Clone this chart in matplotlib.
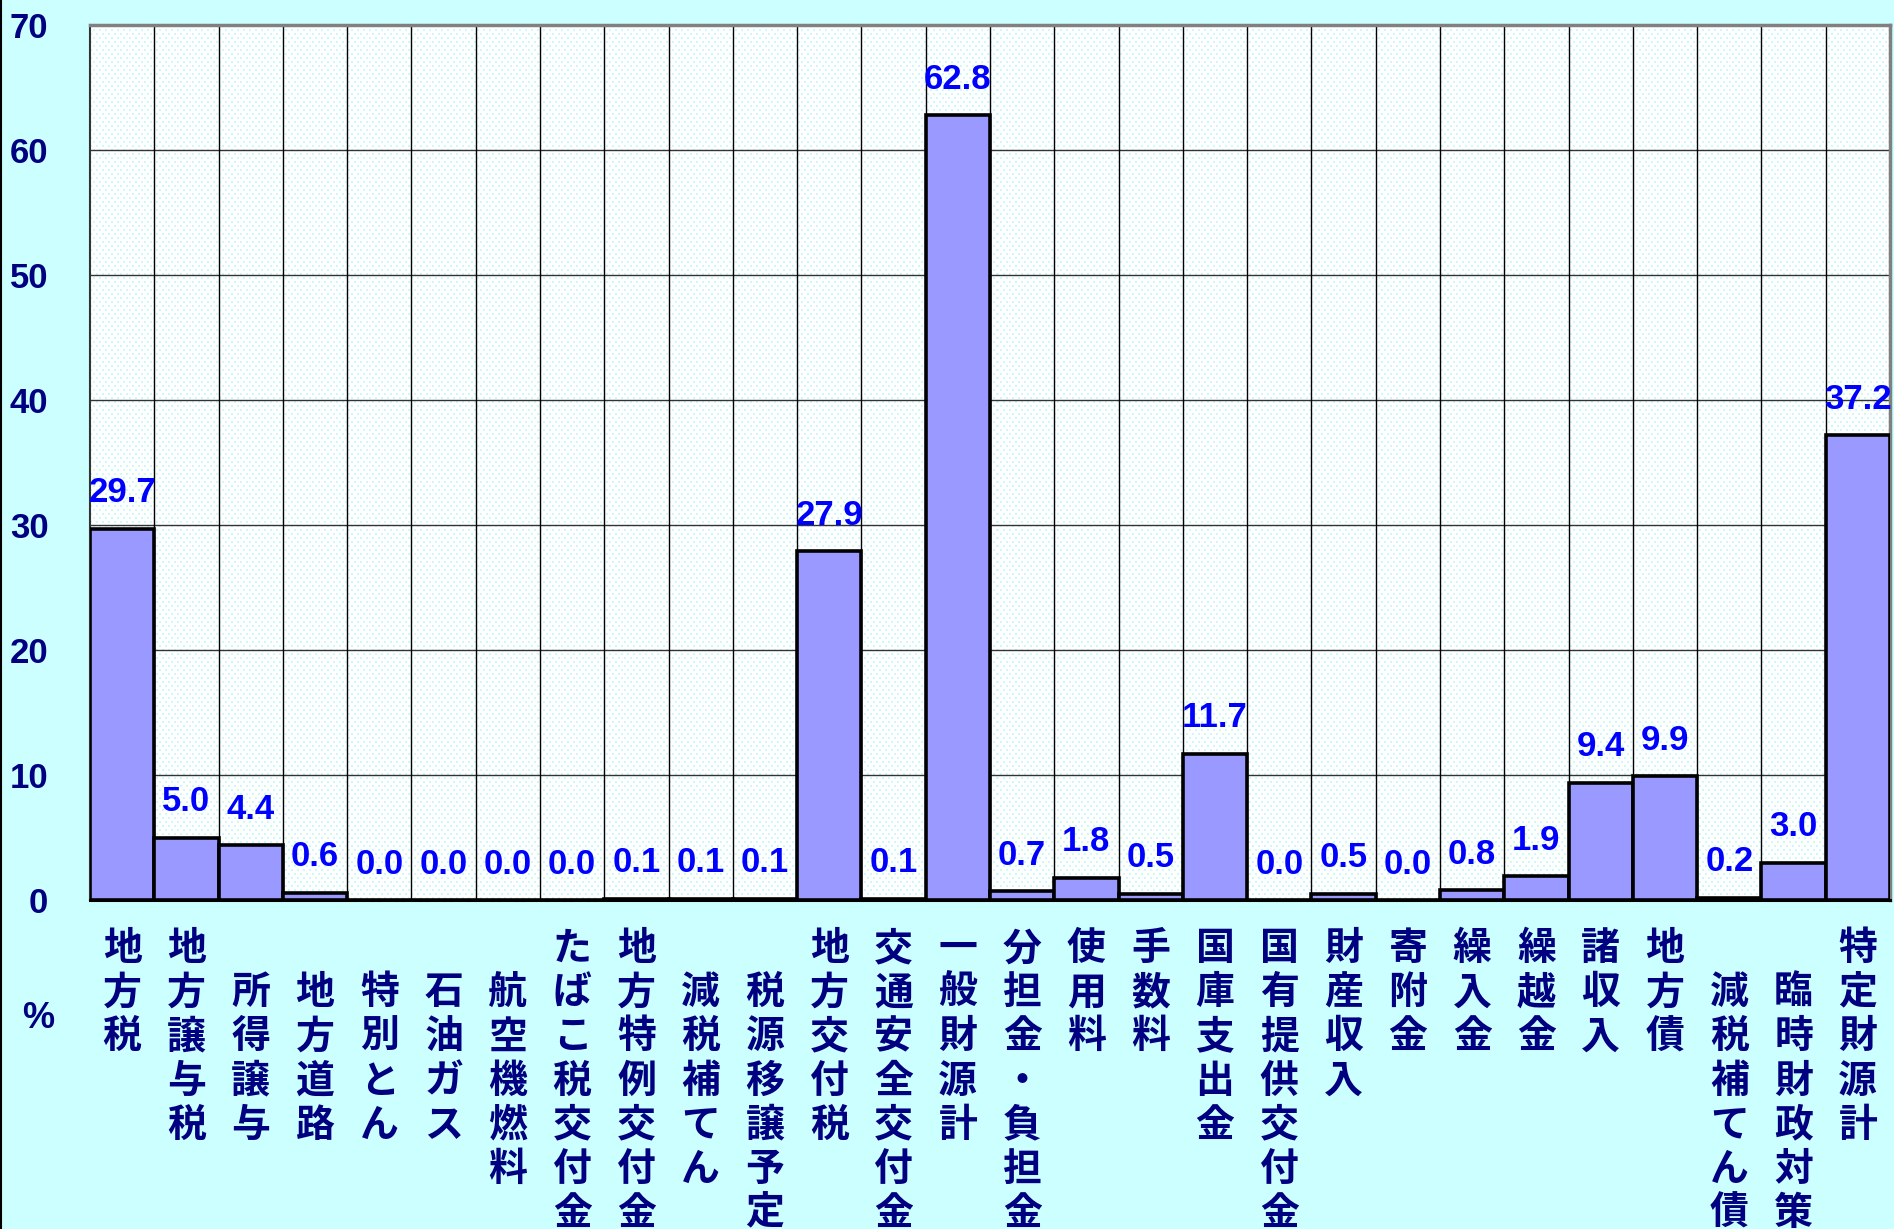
import numpy as np
import matplotlib
matplotlib.use('Agg')
import matplotlib.pyplot as plt
from matplotlib.lines import Line2D

# categories (a leading full-width space pushes the label one row down)
categories = ['地方税', '地方譲与税', '　所得譲与', '　地方道路', '　特別とん', '　石油ガス',
              '　航空機燃料', 'たばこ税交付金', '地方特例交付金', '　減税補てん', '　税源移譲予定',
              '地方交付税', '交通安全交付金', '一般財源計', '分担金・負担金', '使用料', '手数料',
              '国庫支出金', '国有提供交付金', '財産収入', '寄附金', '繰入金', '繰越金', '諸収入',
              '地方債', '　減税補てん債', '　臨時財政対策', '特定財源計']
values = [29.7, 5.0, 4.4, 0.6, 0.0, 0.0, 0.0, 0.0, 0.1, 0.1, 0.1, 27.9, 0.1, 62.8,
          0.7, 1.8, 0.5, 11.7, 0.0, 0.5, 0.0, 0.8, 1.9, 9.4, 9.9, 0.2, 3.0, 37.2]
yticks = [0, 10, 20, 30, 40, 50, 60, 70]

W, H = 1894, 1229
DPI = 100
BG = '#CCFFFF'
NAVY = '#000080'
num_font = ['Liberation Sans', 'DejaVu Sans']
jp_font = ['Noto Sans CJK JP', 'DejaVu Sans']

fig = plt.figure(figsize=(W / DPI, H / DPI), dpi=DPI, facecolor=BG)
left, right, top, bottom = 90, 1890, 25, 900
ax = fig.add_axes([left / W, 1 - bottom / H, (right - left) / W, (bottom - top) / H])

# dotted plot-area background
aw, ah = right - left, bottom - top
tex = np.ones((ah, aw, 3))
dot = np.array([0.80, 0.98, 0.98])
for r in range(0, ah, 4):
    off = 0 if (r // 4) % 2 == 0 else 3
    tex[r:r + 2, off::6][:, :, :] = dot
    tex[r:r + 2, off + 1::6][:, :, :] = dot
ax.imshow(tex, extent=[0, 1, 0, 1], transform=ax.transAxes, aspect='auto',
          interpolation='nearest', zorder=0)

x = np.arange(len(categories))
ax.bar(x, values, width=1.0, color='#9999FF', edgecolor='black', linewidth=2.6, zorder=3)

for xi, v in zip(x, values):
    ax.annotate(f'{v:.1f}', (xi, v), xytext=(0, 14), textcoords='offset points',
                ha='center', va='bottom', color='#0000FF', fontsize=25,
                fontweight='bold', family=num_font, zorder=4)

ax.set_xlim(-0.5, len(categories) - 0.5)
ax.set_ylim(0, 70)
ax.set_yticks(yticks)
ax.set_yticklabels([str(t) for t in yticks], color=NAVY, fontsize=25,
                   fontweight='bold', family=num_font)
ax.tick_params(axis='y', length=0, pad=30)

# grid: horizontal at ticks, vertical at category boundaries
for t in yticks[1:-1]:
    ax.axhline(t, color='#333333', lw=1.0, zorder=1)
for b in np.arange(0.5, len(categories) - 0.5, 1.0):
    ax.axvline(b, color='black', lw=1.0, zorder=1)

ax.set_xticks(x)
ax.set_xticklabels(['\n'.join(c) for c in categories], color=NAVY, fontsize=28,
                   fontweight='bold', family=jp_font, linespacing=1.165, va='top')
ax.tick_params(axis='x', length=0, pad=21)

for s in ['top', 'right']:
    ax.spines[s].set_color('#808080')
    ax.spines[s].set_linewidth(2.5)
ax.spines['left'].set_color('#333333')
ax.spines['left'].set_linewidth(1.5)
ax.spines['bottom'].set_color('black')
ax.spines['bottom'].set_linewidth(2.2)

fig.text(38 / W, 1 - 1019 / H, '%', color=NAVY, fontsize=26, fontweight='bold',
         family=num_font, ha='center', va='center')
fig.add_artist(Line2D([0.0005, 0.0005], [0, 1], color='black', lw=1.5,
                      transform=fig.transFigure))

fig.savefig('out.png', dpi=DPI, facecolor=BG)
